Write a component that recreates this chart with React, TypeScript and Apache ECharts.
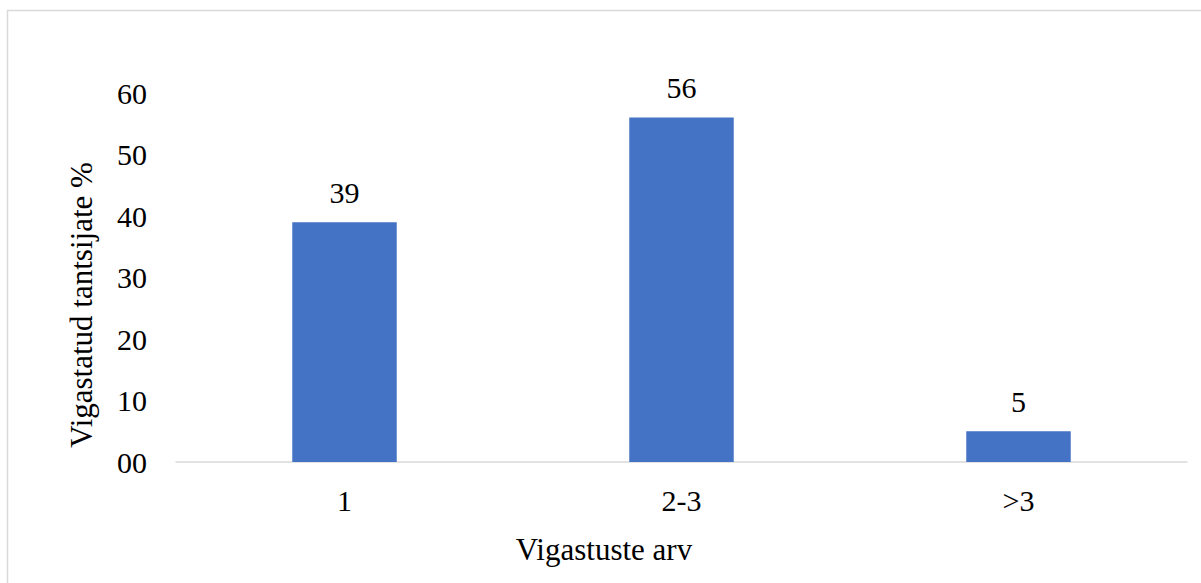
import React, { useEffect, useRef } from "react";
import * as echarts from "echarts";

const categories: string[] = ["1", "2-3", ">3"];
const injuredShare: number[] = [39, 56, 5];
const yTicks: string[] = ["00", "10", "20", "30", "40", "50", "60"];

const xTitle = "Vigastuste arv";
const yTitle = "Vigastatud tantsijate %";

const FONT = "'Liberation Serif', 'Times New Roman', serif";

export default function App() {
  const ref = useRef<HTMLDivElement>(null);

  useEffect(() => {
    if (!ref.current) return;
    const chart = echarts.init(ref.current, undefined, { renderer: "svg" });
    chart.setOption({
      animation: false,
      backgroundColor: "#ffffff",
      textStyle: { fontFamily: FONT },
      grid: { left: 176, right: 14, top: 93, bottom: 121, containLabel: false },
      graphic: [
        {
          type: "rect",
          shape: { x: 7.5, y: 10.5, width: 1220, height: 600 },
          style: { fill: "none", stroke: "#D9D9D9", lineWidth: 1.5 },
          silent: true,
        },
        {
          // vertical axis title
          type: "text",
          x: 81,
          y: 305,
          rotation: Math.PI / 2,
          style: {
            text: yTitle,
            fontFamily: FONT,
            fontSize: 31,
            fill: "#000000",
            textAlign: "center",
            textVerticalAlign: "middle",
          },
        },
        {
          // horizontal axis title
          type: "text",
          x: 604,
          y: 549,
          style: {
            text: xTitle,
            fontFamily: FONT,
            fontSize: 31,
            fill: "#000000",
            textAlign: "center",
            textVerticalAlign: "middle",
          },
        },
      ],
      xAxis: {
        type: "category",
        data: categories,
        axisLine: { lineStyle: { color: "#D9D9D9", width: 1.5 } },
        axisTick: { show: false },
        axisLabel: { fontFamily: FONT, fontSize: 30, color: "#000", margin: 23 },
      },
      yAxis: {
        type: "value",
        min: 0,
        max: 60,
        interval: 10,
        axisLine: { show: false },
        axisTick: { show: false },
        splitLine: { show: false },
        axisLabel: {
          fontFamily: FONT,
          fontSize: 30,
          color: "#000",
          margin: 29,
          formatter: (v: number) => yTicks[Math.round(v / 10)] ?? String(v),
        },
      },
      series: [
        {
          type: "bar",
          data: injuredShare,
          barWidth: "31%",
          itemStyle: { color: "#4472C4" },
          label: {
            show: true,
            position: "top",
            distance: 15,
            fontFamily: FONT,
            fontSize: 30,
            color: "#000",
          },
        },
      ],
    });
    return () => chart.dispose();
  }, []);

  return (
    <div
      ref={ref}
      style={{ position: "fixed", left: 0, top: 0, width: 1201, height: 583 }}
    />
  );
}
